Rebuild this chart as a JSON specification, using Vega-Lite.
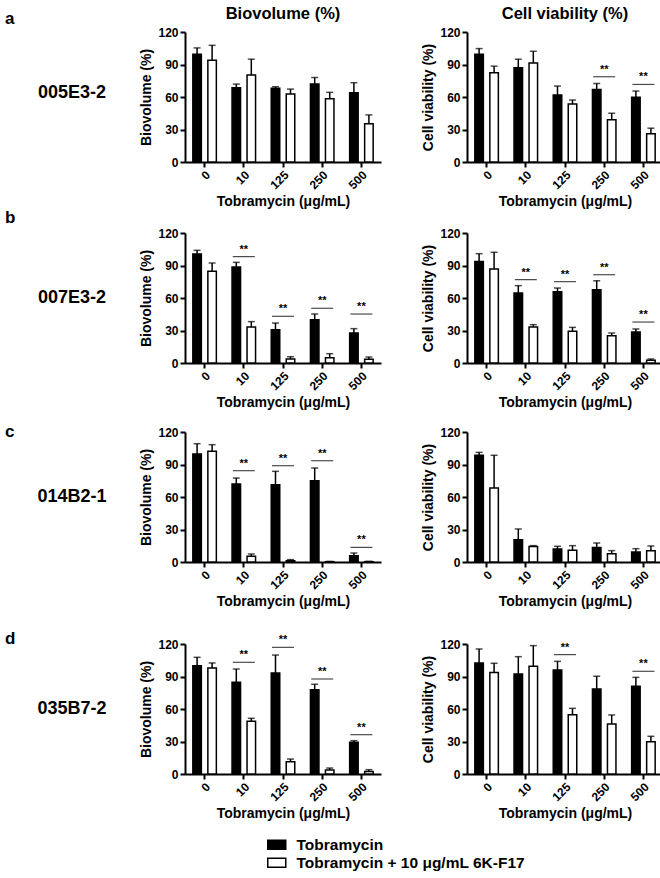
{
  "$schema": "https://vega.github.io/schema/vega-lite/v6.json",
  "datasets": {
    "bars": [
      {"p":"a1","c":"0","g":"T","m":99.5,"h":105.3},{"p":"a1","c":"0","g":"K","m":94,"h":107.7},
      {"p":"a1","c":"10","g":"T","m":68.6,"h":71.9},{"p":"a1","c":"10","g":"K","m":80.2,"h":94.9},
      {"p":"a1","c":"125","g":"T","m":68,"h":69.5},{"p":"a1","c":"125","g":"K","m":62.7,"h":67.3},
      {"p":"a1","c":"250","g":"T","m":72,"h":78},{"p":"a1","c":"250","g":"K","m":58.5,"h":64.3},
      {"p":"a1","c":"500","g":"T","m":63.9,"h":73.2},{"p":"a1","c":"500","g":"K","m":35.2,"h":43.5},
      {"p":"a2","c":"0","g":"T","m":99.5,"h":104.7},{"p":"a2","c":"0","g":"K","m":82.3,"h":88.5},
      {"p":"a2","c":"10","g":"T","m":86.9,"h":94.9},{"p":"a2","c":"10","g":"K","m":91.5,"h":102.2},
      {"p":"a2","c":"125","g":"T","m":61.8,"h":70.1},{"p":"a2","c":"125","g":"K","m":53.6,"h":57.2},
      {"p":"a2","c":"250","g":"T","m":67,"h":72.5},{"p":"a2","c":"250","g":"K","m":38.9,"h":45},
      {"p":"a2","c":"500","g":"T","m":59.7,"h":65.5},{"p":"a2","c":"500","g":"K","m":26,"h":31.2},
      {"p":"b1","c":"0","g":"T","m":100.6,"h":104},{"p":"b1","c":"0","g":"K","m":84.6,"h":92.3},
      {"p":"b1","c":"10","g":"T","m":88.6,"h":92.9},{"p":"b1","c":"10","g":"K","m":33.2,"h":38.2},
      {"p":"b1","c":"125","g":"T","m":30.8,"h":36.9},{"p":"b1","c":"125","g":"K","m":3.7,"h":5.8},
      {"p":"b1","c":"250","g":"T","m":40,"h":45.2},{"p":"b1","c":"250","g":"K","m":4.9,"h":8.6},
      {"p":"b1","c":"500","g":"T","m":27.7,"h":31.7},{"p":"b1","c":"500","g":"K","m":3.4,"h":5.5},
      {"p":"b2","c":"0","g":"T","m":93.8,"h":100.9},{"p":"b2","c":"0","g":"K","m":86.8,"h":102.2},
      {"p":"b2","c":"10","g":"T","m":64.6,"h":71.4},{"p":"b2","c":"10","g":"K","m":33.2,"h":35.4},
      {"p":"b2","c":"125","g":"T","m":65.8,"h":69.2},{"p":"b2","c":"125","g":"K","m":29.2,"h":32.9},
      {"p":"b2","c":"250","g":"T","m":67.7,"h":76},{"p":"b2","c":"250","g":"K","m":25.2,"h":27.7},
      {"p":"b2","c":"500","g":"T","m":28.6,"h":31.4},{"p":"b2","c":"500","g":"K","m":2.5,"h":3.7},
      {"p":"c1","c":"0","g":"T","m":99.7,"h":109.2},{"p":"c1","c":"0","g":"K","m":102.2,"h":108.3},
      {"p":"c1","c":"10","g":"T","m":72,"h":77.5},{"p":"c1","c":"10","g":"K","m":5.2,"h":7.4},
      {"p":"c1","c":"125","g":"T","m":71.4,"h":83.7},{"p":"c1","c":"125","g":"K","m":1.2,"h":2.2},
      {"p":"c1","c":"250","g":"T","m":75.1,"h":86.8},{"p":"c1","c":"250","g":"K","m":0.3,"h":0.5},
      {"p":"c1","c":"500","g":"T","m":5.8,"h":8.3},{"p":"c1","c":"500","g":"K","m":0.3,"h":0.6},
      {"p":"c2","c":"0","g":"T","m":98.5,"h":101.2},{"p":"c2","c":"0","g":"K","m":68.3,"h":98.5},
      {"p":"c2","c":"10","g":"T","m":20.6,"h":30.5},{"p":"c2","c":"10","g":"K","m":14.2,"h":15.1},
      {"p":"c2","c":"125","g":"T","m":12,"h":14.5},{"p":"c2","c":"125","g":"K","m":10.8,"h":15.1},
      {"p":"c2","c":"250","g":"T","m":13.5,"h":17.5},{"p":"c2","c":"250","g":"K","m":7.7,"h":10.5},
      {"p":"c2","c":"500","g":"T","m":9.2,"h":12.3},{"p":"c2","c":"500","g":"K","m":10.5,"h":14.8},
      {"p":"d1","c":"0","g":"T","m":100,"h":107.7},{"p":"d1","c":"0","g":"K","m":97.8,"h":102.5},
      {"p":"d1","c":"10","g":"T","m":84.6,"h":96.9},{"p":"d1","c":"10","g":"K","m":48.6,"h":51.4},
      {"p":"d1","c":"125","g":"T","m":93.2,"h":109.8},{"p":"d1","c":"125","g":"K","m":11.4,"h":13.8},
      {"p":"d1","c":"250","g":"T","m":77.8,"h":82.8},{"p":"d1","c":"250","g":"K","m":3.7,"h":5.5},
      {"p":"d1","c":"500","g":"T","m":29.2,"h":30.8},{"p":"d1","c":"500","g":"K","m":2.2,"h":4},
      {"p":"d2","c":"0","g":"T","m":102.5,"h":115.4},{"p":"d2","c":"0","g":"K","m":93.8,"h":102.2},
      {"p":"d2","c":"10","g":"T","m":92.3,"h":108.3},{"p":"d2","c":"10","g":"K","m":99.4,"h":118.5},
      {"p":"d2","c":"125","g":"T","m":96,"h":104},{"p":"d2","c":"125","g":"K","m":54.8,"h":60.6},
      {"p":"d2","c":"250","g":"T","m":78.5,"h":90.2},{"p":"d2","c":"250","g":"K","m":46.2,"h":54.5},
      {"p":"d2","c":"500","g":"T","m":80.9,"h":89.2},{"p":"d2","c":"500","g":"K","m":29.8,"h":34.8}
    ],
    "sig": [
      {"p":"a2","c":"250","s":78.7},{"p":"a2","c":"500","s":71.6},
      {"p":"b1","c":"10","s":98.2},{"p":"b1","c":"125","s":43.1},{"p":"b1","c":"250","s":50.5},{"p":"b1","c":"500","s":45.2},
      {"p":"b2","c":"10","s":76.9},{"p":"b2","c":"125","s":75.1},{"p":"b2","c":"250","s":81.5},{"p":"b2","c":"500","s":37.8},
      {"p":"c1","c":"10","s":84.3},{"p":"c1","c":"125","s":88.9},{"p":"c1","c":"250","s":93.5},{"p":"c1","c":"500","s":13.5},
      {"p":"d1","c":"10","s":103.1},{"p":"d1","c":"125","s":116.9},{"p":"d1","c":"250","s":87.7},{"p":"d1","c":"500","s":36.3},
      {"p":"d2","c":"125","s":110.2},{"p":"d2","c":"500","s":94.8}
    ]
  },
  "config": {
    "view": {"stroke": null},
    "font": "Liberation Sans",
    "axis": {"domainColor":"black","domainWidth":2,"tickColor":"black","tickWidth":2,"tickSize":5,"labelFont":"Liberation Sans","labelFontWeight":"bold","labelFontSize":12,"labelColor":"black","titleFont":"Liberation Sans","titleFontWeight":"bold","titleFontSize":14,"titleColor":"black","grid":false,"labelPadding":2},
    "title": {"font":"Liberation Sans","fontWeight":"bold","color":"black"},
    "legend": {"orient":"none","legendX":264,"legendY":805,"title":null,"symbolType":"M-1.5,-0.75H1.5V0.75H-1.5Z","symbolSize":144,"symbolStrokeColor":"black","symbolStrokeWidth":1.5,"labelFont":"Liberation Sans","labelFontSize":15.5,"labelFontWeight":"bold","labelColor":"black","rowPadding":1,"labelOffset":12,"labelLimit":0}
  },
  "spacing": 21,
  "vconcat": [
   {"spacing": 13, "vconcat": [
    {"spacing": 0, "vconcat": [
    {"spacing":0,"hconcat":[
      {"width":134,"height":122,"data":{"values":[{"s":"005E3-2"}]},"mark":{"type":"text","fontSize":18,"fontWeight":"bold","font":"Liberation Sans"},"encoding":{"text":{"field":"s"}},"title":{"text":"a","anchor":"start","fontSize":17,"offset":4}},
      {"spacing":40,"hconcat":[
        {"width":196,"height":130,"title":{"text":"Biovolume (%)","fontSize":16.5,"offset":4},
         "encoding":{"x":{"field":"c","type":"ordinal","sort":["0","10","125","250","500"],"scale":{"type":"band","paddingInner":0.4,"paddingOuter":0.2},"axis":{"labelAngle":-45,"title":"Tobramycin (μg/mL)"}}},
         "layer":[
          {"data":{"name":"bars"},"transform":[{"filter":"datum.p=='a1'"}],"mark":{"type":"bar","stroke":"black","strokeWidth":1.5},
           "encoding":{"xOffset":{"field":"g","type":"nominal","sort":["T","K"],"scale":{"paddingInner":0.433}},"y":{"field":"m","type":"quantitative","scale":{"domain":[0,120],"nice":false},"axis":{"values":[0,30,60,90,120],"labelOverlap":false},"title":"Biovolume (%)"},
            "fill":{"field":"g","type":"nominal","scale":{"domain":["T","K"],"range":["black","white"]},"legend":{"labelExpr":"datum.label == 'T' ? 'Tobramycin' : 'Tobramycin + 10 μg/mL 6K-F17'"}}}},
          {"data":{"name":"bars"},"transform":[{"filter":"datum.p=='a1'"}],"mark":{"type":"rule","color":"black","strokeWidth":1.5},
           "encoding":{"xOffset":{"field":"g","type":"nominal","sort":["T","K"]},"y":{"field":"m","type":"quantitative","axis":{"values":[0,30,60,90,120],"labelOverlap":false},"title":"Biovolume (%)"},"y2":{"field":"h"}}},
          {"data":{"name":"bars"},"transform":[{"filter":"datum.p=='a1'"}],"mark":{"type":"tick","color":"black","thickness":1.5,"size":7},
           "encoding":{"xOffset":{"field":"g","type":"nominal","sort":["T","K"]},"y":{"field":"h","type":"quantitative","axis":{"values":[0,30,60,90,120],"labelOverlap":false},"title":"Biovolume (%)"}}},
          {"data":{"name":"sig"},"transform":[{"filter":"datum.p=='a1'"}],"mark":{"type":"tick","color":"black","thickness":1.2,"size":22},
           "encoding":{"y":{"field":"s","type":"quantitative","axis":{"values":[0,30,60,90,120],"labelOverlap":false},"title":"Biovolume (%)"}}},
          {"data":{"name":"sig"},"transform":[{"filter":"datum.p=='a1'"}],"mark":{"type":"text","text":"**","baseline":"bottom","dy":-2,"fontSize":11,"fontWeight":"bold"},
           "encoding":{"y":{"field":"s","type":"quantitative","axis":{"values":[0,30,60,90,120],"labelOverlap":false},"title":"Biovolume (%)"}}}
         ]},
        {"width":196,"height":130,"title":{"text":"Cell viability (%)","fontSize":16.5,"offset":4},
         "encoding":{"x":{"field":"c","type":"ordinal","sort":["0","10","125","250","500"],"scale":{"type":"band","paddingInner":0.4,"paddingOuter":0.2},"axis":{"labelAngle":-45,"title":"Tobramycin (μg/mL)"}}},
         "layer":[
          {"data":{"name":"bars"},"transform":[{"filter":"datum.p=='a2'"}],"mark":{"type":"bar","stroke":"black","strokeWidth":1.5},
           "encoding":{"xOffset":{"field":"g","type":"nominal","sort":["T","K"],"scale":{"paddingInner":0.433}},"y":{"field":"m","type":"quantitative","scale":{"domain":[0,120],"nice":false},"axis":{"values":[0,30,60,90,120],"labelOverlap":false},"title":"Cell viability (%)"},
            "fill":{"field":"g","type":"nominal","scale":{"domain":["T","K"],"range":["black","white"]},"legend":{"labelExpr":"datum.label == 'T' ? 'Tobramycin' : 'Tobramycin + 10 μg/mL 6K-F17'"}}}},
          {"data":{"name":"bars"},"transform":[{"filter":"datum.p=='a2'"}],"mark":{"type":"rule","color":"black","strokeWidth":1.5},
           "encoding":{"xOffset":{"field":"g","type":"nominal","sort":["T","K"]},"y":{"field":"m","type":"quantitative","axis":{"values":[0,30,60,90,120],"labelOverlap":false},"title":"Cell viability (%)"},"y2":{"field":"h"}}},
          {"data":{"name":"bars"},"transform":[{"filter":"datum.p=='a2'"}],"mark":{"type":"tick","color":"black","thickness":1.5,"size":7},
           "encoding":{"xOffset":{"field":"g","type":"nominal","sort":["T","K"]},"y":{"field":"h","type":"quantitative","axis":{"values":[0,30,60,90,120],"labelOverlap":false},"title":"Cell viability (%)"}}},
          {"data":{"name":"sig"},"transform":[{"filter":"datum.p=='a2'"}],"mark":{"type":"tick","color":"black","thickness":1.2,"size":22},
           "encoding":{"y":{"field":"s","type":"quantitative","axis":{"values":[0,30,60,90,120],"labelOverlap":false},"title":"Cell viability (%)"}}},
          {"data":{"name":"sig"},"transform":[{"filter":"datum.p=='a2'"}],"mark":{"type":"text","text":"**","baseline":"bottom","dy":-2,"fontSize":11,"fontWeight":"bold"},
           "encoding":{"y":{"field":"s","type":"quantitative","axis":{"values":[0,30,60,90,120],"labelOverlap":false},"title":"Cell viability (%)"}}}
         ]}
      ]}
    ]},
    {"spacing":0,"hconcat":[
      {"width":134,"height":130,"data":{"values":[{"s":"007E3-2"}]},"mark":{"type":"text","fontSize":18,"fontWeight":"bold","font":"Liberation Sans"},"encoding":{"text":{"field":"s"}},"title":{"text":"b","anchor":"start","fontSize":17,"offset":6}},
      {"spacing":40,"hconcat":[
        {"width":196,"height":130,
         "encoding":{"x":{"field":"c","type":"ordinal","sort":["0","10","125","250","500"],"scale":{"type":"band","paddingInner":0.4,"paddingOuter":0.2},"axis":{"labelAngle":-45,"title":"Tobramycin (μg/mL)"}}},
         "layer":[
          {"data":{"name":"bars"},"transform":[{"filter":"datum.p=='b1'"}],"mark":{"type":"bar","stroke":"black","strokeWidth":1.5},
           "encoding":{"xOffset":{"field":"g","type":"nominal","sort":["T","K"],"scale":{"paddingInner":0.433}},"y":{"field":"m","type":"quantitative","scale":{"domain":[0,120],"nice":false},"axis":{"values":[0,30,60,90,120],"labelOverlap":false},"title":"Biovolume (%)"},
            "fill":{"field":"g","type":"nominal","scale":{"domain":["T","K"],"range":["black","white"]},"legend":{"labelExpr":"datum.label == 'T' ? 'Tobramycin' : 'Tobramycin + 10 μg/mL 6K-F17'"}}}},
          {"data":{"name":"bars"},"transform":[{"filter":"datum.p=='b1'"}],"mark":{"type":"rule","color":"black","strokeWidth":1.5},
           "encoding":{"xOffset":{"field":"g","type":"nominal","sort":["T","K"]},"y":{"field":"m","type":"quantitative","axis":{"values":[0,30,60,90,120],"labelOverlap":false},"title":"Biovolume (%)"},"y2":{"field":"h"}}},
          {"data":{"name":"bars"},"transform":[{"filter":"datum.p=='b1'"}],"mark":{"type":"tick","color":"black","thickness":1.5,"size":7},
           "encoding":{"xOffset":{"field":"g","type":"nominal","sort":["T","K"]},"y":{"field":"h","type":"quantitative","axis":{"values":[0,30,60,90,120],"labelOverlap":false},"title":"Biovolume (%)"}}},
          {"data":{"name":"sig"},"transform":[{"filter":"datum.p=='b1'"}],"mark":{"type":"tick","color":"black","thickness":1.2,"size":22},
           "encoding":{"y":{"field":"s","type":"quantitative","axis":{"values":[0,30,60,90,120],"labelOverlap":false},"title":"Biovolume (%)"}}},
          {"data":{"name":"sig"},"transform":[{"filter":"datum.p=='b1'"}],"mark":{"type":"text","text":"**","baseline":"bottom","dy":-2,"fontSize":11,"fontWeight":"bold"},
           "encoding":{"y":{"field":"s","type":"quantitative","axis":{"values":[0,30,60,90,120],"labelOverlap":false},"title":"Biovolume (%)"}}}
         ]},
        {"width":196,"height":130,
         "encoding":{"x":{"field":"c","type":"ordinal","sort":["0","10","125","250","500"],"scale":{"type":"band","paddingInner":0.4,"paddingOuter":0.2},"axis":{"labelAngle":-45,"title":"Tobramycin (μg/mL)"}}},
         "layer":[
          {"data":{"name":"bars"},"transform":[{"filter":"datum.p=='b2'"}],"mark":{"type":"bar","stroke":"black","strokeWidth":1.5},
           "encoding":{"xOffset":{"field":"g","type":"nominal","sort":["T","K"],"scale":{"paddingInner":0.433}},"y":{"field":"m","type":"quantitative","scale":{"domain":[0,120],"nice":false},"axis":{"values":[0,30,60,90,120],"labelOverlap":false},"title":"Cell viability (%)"},
            "fill":{"field":"g","type":"nominal","scale":{"domain":["T","K"],"range":["black","white"]},"legend":{"labelExpr":"datum.label == 'T' ? 'Tobramycin' : 'Tobramycin + 10 μg/mL 6K-F17'"}}}},
          {"data":{"name":"bars"},"transform":[{"filter":"datum.p=='b2'"}],"mark":{"type":"rule","color":"black","strokeWidth":1.5},
           "encoding":{"xOffset":{"field":"g","type":"nominal","sort":["T","K"]},"y":{"field":"m","type":"quantitative","axis":{"values":[0,30,60,90,120],"labelOverlap":false},"title":"Cell viability (%)"},"y2":{"field":"h"}}},
          {"data":{"name":"bars"},"transform":[{"filter":"datum.p=='b2'"}],"mark":{"type":"tick","color":"black","thickness":1.5,"size":7},
           "encoding":{"xOffset":{"field":"g","type":"nominal","sort":["T","K"]},"y":{"field":"h","type":"quantitative","axis":{"values":[0,30,60,90,120],"labelOverlap":false},"title":"Cell viability (%)"}}},
          {"data":{"name":"sig"},"transform":[{"filter":"datum.p=='b2'"}],"mark":{"type":"tick","color":"black","thickness":1.2,"size":22},
           "encoding":{"y":{"field":"s","type":"quantitative","axis":{"values":[0,30,60,90,120],"labelOverlap":false},"title":"Cell viability (%)"}}},
          {"data":{"name":"sig"},"transform":[{"filter":"datum.p=='b2'"}],"mark":{"type":"text","text":"**","baseline":"bottom","dy":-2,"fontSize":11,"fontWeight":"bold"},
           "encoding":{"y":{"field":"s","type":"quantitative","axis":{"values":[0,30,60,90,120],"labelOverlap":false},"title":"Cell viability (%)"}}}
         ]}
      ]}
    ]}
    ]},
    {"spacing":0,"hconcat":[
      {"width":134,"height":130,"data":{"values":[{"s":"014B2-1"}]},"mark":{"type":"text","fontSize":18,"fontWeight":"bold","font":"Liberation Sans"},"encoding":{"text":{"field":"s"}},"title":{"text":"c","anchor":"start","fontSize":17,"offset":-9}},
      {"spacing":40,"hconcat":[
        {"width":196,"height":130,
         "encoding":{"x":{"field":"c","type":"ordinal","sort":["0","10","125","250","500"],"scale":{"type":"band","paddingInner":0.4,"paddingOuter":0.2},"axis":{"labelAngle":-45,"title":"Tobramycin (μg/mL)"}}},
         "layer":[
          {"data":{"name":"bars"},"transform":[{"filter":"datum.p=='c1'"}],"mark":{"type":"bar","stroke":"black","strokeWidth":1.5},
           "encoding":{"xOffset":{"field":"g","type":"nominal","sort":["T","K"],"scale":{"paddingInner":0.433}},"y":{"field":"m","type":"quantitative","scale":{"domain":[0,120],"nice":false},"axis":{"values":[0,30,60,90,120],"labelOverlap":false},"title":"Biovolume (%)"},
            "fill":{"field":"g","type":"nominal","scale":{"domain":["T","K"],"range":["black","white"]},"legend":{"labelExpr":"datum.label == 'T' ? 'Tobramycin' : 'Tobramycin + 10 μg/mL 6K-F17'"}}}},
          {"data":{"name":"bars"},"transform":[{"filter":"datum.p=='c1'"}],"mark":{"type":"rule","color":"black","strokeWidth":1.5},
           "encoding":{"xOffset":{"field":"g","type":"nominal","sort":["T","K"]},"y":{"field":"m","type":"quantitative","axis":{"values":[0,30,60,90,120],"labelOverlap":false},"title":"Biovolume (%)"},"y2":{"field":"h"}}},
          {"data":{"name":"bars"},"transform":[{"filter":"datum.p=='c1'"}],"mark":{"type":"tick","color":"black","thickness":1.5,"size":7},
           "encoding":{"xOffset":{"field":"g","type":"nominal","sort":["T","K"]},"y":{"field":"h","type":"quantitative","axis":{"values":[0,30,60,90,120],"labelOverlap":false},"title":"Biovolume (%)"}}},
          {"data":{"name":"sig"},"transform":[{"filter":"datum.p=='c1'"}],"mark":{"type":"tick","color":"black","thickness":1.2,"size":22},
           "encoding":{"y":{"field":"s","type":"quantitative","axis":{"values":[0,30,60,90,120],"labelOverlap":false},"title":"Biovolume (%)"}}},
          {"data":{"name":"sig"},"transform":[{"filter":"datum.p=='c1'"}],"mark":{"type":"text","text":"**","baseline":"bottom","dy":-2,"fontSize":11,"fontWeight":"bold"},
           "encoding":{"y":{"field":"s","type":"quantitative","axis":{"values":[0,30,60,90,120],"labelOverlap":false},"title":"Biovolume (%)"}}}
         ]},
        {"width":196,"height":130,
         "encoding":{"x":{"field":"c","type":"ordinal","sort":["0","10","125","250","500"],"scale":{"type":"band","paddingInner":0.4,"paddingOuter":0.2},"axis":{"labelAngle":-45,"title":"Tobramycin (μg/mL)"}}},
         "layer":[
          {"data":{"name":"bars"},"transform":[{"filter":"datum.p=='c2'"}],"mark":{"type":"bar","stroke":"black","strokeWidth":1.5},
           "encoding":{"xOffset":{"field":"g","type":"nominal","sort":["T","K"],"scale":{"paddingInner":0.433}},"y":{"field":"m","type":"quantitative","scale":{"domain":[0,120],"nice":false},"axis":{"values":[0,30,60,90,120],"labelOverlap":false},"title":"Cell viability (%)"},
            "fill":{"field":"g","type":"nominal","scale":{"domain":["T","K"],"range":["black","white"]},"legend":{"labelExpr":"datum.label == 'T' ? 'Tobramycin' : 'Tobramycin + 10 μg/mL 6K-F17'"}}}},
          {"data":{"name":"bars"},"transform":[{"filter":"datum.p=='c2'"}],"mark":{"type":"rule","color":"black","strokeWidth":1.5},
           "encoding":{"xOffset":{"field":"g","type":"nominal","sort":["T","K"]},"y":{"field":"m","type":"quantitative","axis":{"values":[0,30,60,90,120],"labelOverlap":false},"title":"Cell viability (%)"},"y2":{"field":"h"}}},
          {"data":{"name":"bars"},"transform":[{"filter":"datum.p=='c2'"}],"mark":{"type":"tick","color":"black","thickness":1.5,"size":7},
           "encoding":{"xOffset":{"field":"g","type":"nominal","sort":["T","K"]},"y":{"field":"h","type":"quantitative","axis":{"values":[0,30,60,90,120],"labelOverlap":false},"title":"Cell viability (%)"}}}
         ]}
      ]}
    ]}
   ]},
    {"spacing":0,"hconcat":[
      {"width":134,"height":130,"data":{"values":[{"s":"035B7-2"}]},"mark":{"type":"text","fontSize":18,"fontWeight":"bold","font":"Liberation Sans"},"encoding":{"text":{"field":"s"}},"title":{"text":"d","anchor":"start","fontSize":17,"offset":-4}},
      {"spacing":40,"hconcat":[
        {"width":196,"height":130,
         "encoding":{"x":{"field":"c","type":"ordinal","sort":["0","10","125","250","500"],"scale":{"type":"band","paddingInner":0.4,"paddingOuter":0.2},"axis":{"labelAngle":-45,"title":"Tobramycin (μg/mL)"}}},
         "layer":[
          {"data":{"name":"bars"},"transform":[{"filter":"datum.p=='d1'"}],"mark":{"type":"bar","stroke":"black","strokeWidth":1.5},
           "encoding":{"xOffset":{"field":"g","type":"nominal","sort":["T","K"],"scale":{"paddingInner":0.433}},"y":{"field":"m","type":"quantitative","scale":{"domain":[0,120],"nice":false},"axis":{"values":[0,30,60,90,120],"labelOverlap":false},"title":"Biovolume (%)"},
            "fill":{"field":"g","type":"nominal","scale":{"domain":["T","K"],"range":["black","white"]},"legend":{"labelExpr":"datum.label == 'T' ? 'Tobramycin' : 'Tobramycin + 10 μg/mL 6K-F17'"}}}},
          {"data":{"name":"bars"},"transform":[{"filter":"datum.p=='d1'"}],"mark":{"type":"rule","color":"black","strokeWidth":1.5},
           "encoding":{"xOffset":{"field":"g","type":"nominal","sort":["T","K"]},"y":{"field":"m","type":"quantitative","axis":{"values":[0,30,60,90,120],"labelOverlap":false},"title":"Biovolume (%)"},"y2":{"field":"h"}}},
          {"data":{"name":"bars"},"transform":[{"filter":"datum.p=='d1'"}],"mark":{"type":"tick","color":"black","thickness":1.5,"size":7},
           "encoding":{"xOffset":{"field":"g","type":"nominal","sort":["T","K"]},"y":{"field":"h","type":"quantitative","axis":{"values":[0,30,60,90,120],"labelOverlap":false},"title":"Biovolume (%)"}}},
          {"data":{"name":"sig"},"transform":[{"filter":"datum.p=='d1'"}],"mark":{"type":"tick","color":"black","thickness":1.2,"size":22},
           "encoding":{"y":{"field":"s","type":"quantitative","axis":{"values":[0,30,60,90,120],"labelOverlap":false},"title":"Biovolume (%)"}}},
          {"data":{"name":"sig"},"transform":[{"filter":"datum.p=='d1'"}],"mark":{"type":"text","text":"**","baseline":"bottom","dy":-2,"fontSize":11,"fontWeight":"bold"},
           "encoding":{"y":{"field":"s","type":"quantitative","axis":{"values":[0,30,60,90,120],"labelOverlap":false},"title":"Biovolume (%)"}}}
         ]},
        {"width":196,"height":130,
         "encoding":{"x":{"field":"c","type":"ordinal","sort":["0","10","125","250","500"],"scale":{"type":"band","paddingInner":0.4,"paddingOuter":0.2},"axis":{"labelAngle":-45,"title":"Tobramycin (μg/mL)"}}},
         "layer":[
          {"data":{"name":"bars"},"transform":[{"filter":"datum.p=='d2'"}],"mark":{"type":"bar","stroke":"black","strokeWidth":1.5},
           "encoding":{"xOffset":{"field":"g","type":"nominal","sort":["T","K"],"scale":{"paddingInner":0.433}},"y":{"field":"m","type":"quantitative","scale":{"domain":[0,120],"nice":false},"axis":{"values":[0,30,60,90,120],"labelOverlap":false},"title":"Cell viability (%)"},
            "fill":{"field":"g","type":"nominal","scale":{"domain":["T","K"],"range":["black","white"]},"legend":{"labelExpr":"datum.label == 'T' ? 'Tobramycin' : 'Tobramycin + 10 μg/mL 6K-F17'"}}}},
          {"data":{"name":"bars"},"transform":[{"filter":"datum.p=='d2'"}],"mark":{"type":"rule","color":"black","strokeWidth":1.5},
           "encoding":{"xOffset":{"field":"g","type":"nominal","sort":["T","K"]},"y":{"field":"m","type":"quantitative","axis":{"values":[0,30,60,90,120],"labelOverlap":false},"title":"Cell viability (%)"},"y2":{"field":"h"}}},
          {"data":{"name":"bars"},"transform":[{"filter":"datum.p=='d2'"}],"mark":{"type":"tick","color":"black","thickness":1.5,"size":7},
           "encoding":{"xOffset":{"field":"g","type":"nominal","sort":["T","K"]},"y":{"field":"h","type":"quantitative","axis":{"values":[0,30,60,90,120],"labelOverlap":false},"title":"Cell viability (%)"}}},
          {"data":{"name":"sig"},"transform":[{"filter":"datum.p=='d2'"}],"mark":{"type":"tick","color":"black","thickness":1.2,"size":22},
           "encoding":{"y":{"field":"s","type":"quantitative","axis":{"values":[0,30,60,90,120],"labelOverlap":false},"title":"Cell viability (%)"}}},
          {"data":{"name":"sig"},"transform":[{"filter":"datum.p=='d2'"}],"mark":{"type":"text","text":"**","baseline":"bottom","dy":-2,"fontSize":11,"fontWeight":"bold"},
           "encoding":{"y":{"field":"s","type":"quantitative","axis":{"values":[0,30,60,90,120],"labelOverlap":false},"title":"Cell viability (%)"}}}
         ]}
      ]}
    ]}
  ]
}
